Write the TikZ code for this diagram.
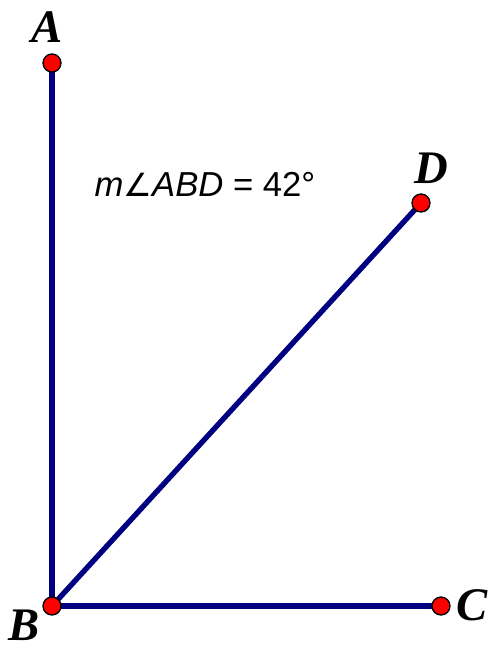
\documentclass[tikz,border=0pt]{standalone}
\usepackage{fontspec}
\setmainfont{Liberation Serif}
\newfontfamily\arialf{Liberation Sans}
\newfontfamily\dejaf{DejaVu Sans}
\begin{document}
\begin{tikzpicture}[x=0.75pt,y=-0.75pt,
  seg/.style={line width=4pt,color={rgb,255:red,0;green,0;blue,128}},
  pt/.style={circle,fill=red,draw=black,line width=1pt,minimum size=13.5pt,inner sep=0pt},
  lbl/.style={font=\fontsize{35}{35}\selectfont\bfseries\itshape,inner sep=0pt},
  meas/.style={font=\fontsize{26}{26}\selectfont\arialf,inner sep=0pt}]
\useasboundingbox (0,0) rectangle (490,651);
\coordinate (A) at (52,63);
\coordinate (B) at (52,606);
\coordinate (C) at (441,606);
\coordinate (D) at (421,203);
\draw[seg] (A) -- (B) -- (C);
\draw[seg] (B) -- (D);
\node[pt] (pA) at (A) {};
\node[pt] (pB) at (B) {};
\node[pt] (pC) at (C) {};
\node[pt] (pD) at (D) {};
\node[lbl] (lA) at (47,27) {A};
\node[lbl] (lB) at (24,625) {B};
\node[lbl] (lC) at (472,605) {C};
\node[lbl] (lD) at (431,168) {D};
\node[meas] (m) at (205,184) {\textit{m}{\dejaf\fontsize{24}{24}\selectfont ∠}\textit{ABD} = 42°};
\end{tikzpicture}
\end{document}
